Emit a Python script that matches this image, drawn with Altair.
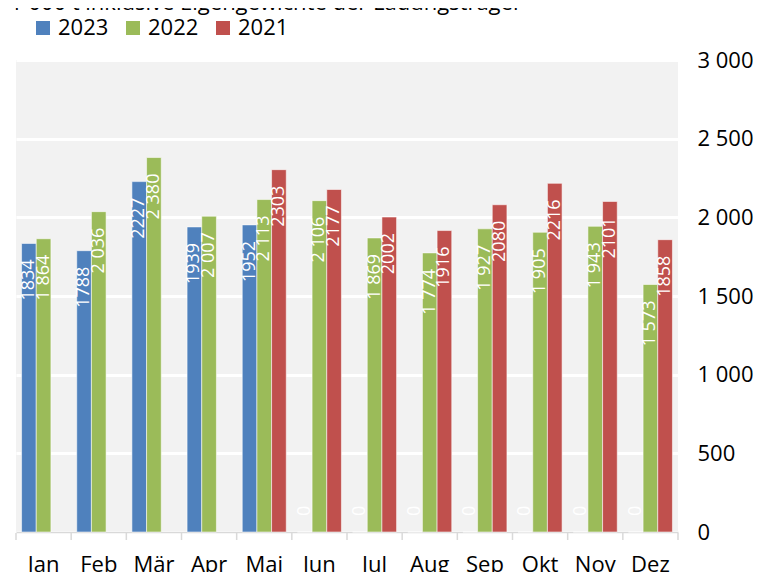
import altair as alt
import pandas as pd

months = ["Jan", "Feb", "Mär", "Apr", "Mai", "Jun", "Jul", "Aug", "Sep", "Okt", "Nov", "Dez"]
series = ["2023", "2022", "2021"]
v2023 = [1834, 1788, 2227, 1939, 1952, 0, 0, 0, 0, 0, 0, 0]
v2022 = [1864, 2036, 2380, 2007, 2113, 2106, 1869, 1774, 1927, 1905, 1943, 1573]
v2021 = [None, None, None, None, 2303, 2177, 2002, 1916, 2080, 2216, 2101, 1858]
colors = ["#4f81bd", "#9bbb59", "#c0504d"]
y_ticks = [0, 500, 1000, 1500, 2000, 2500, 3000]
title_text = "1 000 t inklusive Eigengewichte der Ladungsträger"

FONT = "Open Sans"

rows = []
for s, vals in zip(series, [v2023, v2022, v2021]):
    for m, v in zip(months, vals):
        if v is None:
            continue
        if s == "2022":
            lab = f"{v:,}".replace(",", " ")
        else:
            lab = str(v)
        rows.append({"month": m, "series": s, "value": v, "label": lab})
df = pd.DataFrame(rows)
mdf = pd.DataFrame({"month": months})
one = pd.DataFrame({"t": [title_text]})

W, H = 662, 472

x_enc = alt.X(
    "month:N",
    sort=months,
    scale=alt.Scale(paddingInner=0, paddingOuter=0),
    axis=alt.Axis(
        orient="bottom", title=None, labelAngle=0, ticks=False, grid=False,
        domain=True, domainColor="#d9d9d9", domainWidth=1.5,
        labelFont=FONT, labelFontSize=22, labelColor="#000000",
        labelBaseline="alphabetic", labelPadding=39,
    ),
)
xo_enc = alt.XOffset(
    "series:N",
    scale=alt.Scale(domain=series, paddingInner=0, paddingOuter=0.38),
)
y_enc = alt.Y(
    "value:Q",
    scale=alt.Scale(domain=[0, 3000], nice=False),
    axis=alt.Axis(
        orient="right", title=None, values=y_ticks, grid=True,
        gridColor="#ffffff", gridWidth=3, domain=False, ticks=False, tickSize=0,
        labelFont=FONT, labelFontSize=22, labelColor="#000000",
        labelAlign="left", labelPadding=19,
        labelExpr="replace(format(datum.value, ','), ',', ' ')",
    ),
)
color_enc = alt.Color(
    "series:N",
    scale=alt.Scale(domain=series, range=colors),
    legend=alt.Legend(
        orient="none", legendX=16, legendY=-43, direction="horizontal",
        title=None, symbolType="square", symbolSize=196, symbolStrokeWidth=0,
        symbolOpacity=1, labelFont=FONT, labelFontSize=22, labelColor="#000000",
        labelOffset=4, columnPadding=13, padding=0,
    ),
)

bars = alt.Chart(df).mark_bar(
    stroke="#ffffff", strokeWidth=1, strokeOpacity=0.55
).encode(x=x_enc, xOffset=xo_enc, y=y_enc, color=color_enc)

# with angle 270, dx runs along the text direction (negative = downwards)
labels = alt.Chart(df).transform_filter("datum.value > 0").mark_text(
    angle=270, align="right", baseline="middle", dx=-16,
    color="#ffffff", font=FONT, fontSize=18,
).encode(x=alt.X("month:N", sort=months), xOffset=alt.XOffset("series:N"),
         y=alt.Y("value:Q"), text="label:N")

zero_labels = alt.Chart(df).transform_filter("datum.value == 0").mark_text(
    angle=270, align="left", baseline="middle", dx=16,
    color="#ffffff", font=FONT, fontSize=18,
).encode(x=alt.X("month:N", sort=months), xOffset=alt.XOffset("series:N"),
         y=alt.Y("value:Q"), text="label:N")

ticks = alt.Chart(mdf).mark_rule(color="#d9d9d9", strokeWidth=1.5).encode(
    x=alt.X("month:N", sort=months, bandPosition=0),
    y=alt.value(H + 1),
    y2=alt.value(H + 8),
)
end_tick = alt.Chart(one).mark_rule(color="#d9d9d9", strokeWidth=1.5).encode(
    x=alt.value(W), y=alt.value(H + 1), y2=alt.value(H + 8)
)

title = alt.Chart(one).mark_text(
    align="left", baseline="alphabetic", font=FONT, fontSize=22, color="#000000"
).encode(x=alt.value(-6), y=alt.value(-50), text="t:N")

chart = alt.layer(bars, labels, zero_labels, ticks, end_tick, title).properties(
    width=W, height=H,
    autosize=alt.AutoSizeParams(type="none"),
    padding={"left": 8, "top": 52, "right": 75, "bottom": 40},
).configure_view(fill="#f2f2f2", strokeWidth=0)

chart.save("out.html", embed_options={"renderer": "svg", "actions": False})
